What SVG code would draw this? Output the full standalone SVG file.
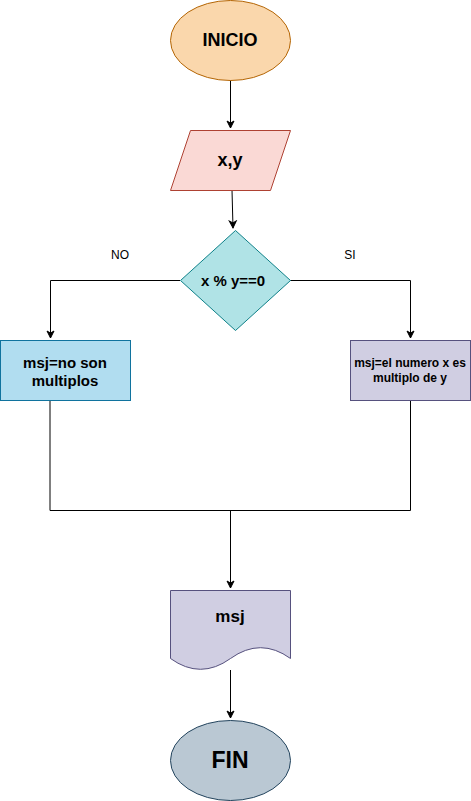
<svg xmlns="http://www.w3.org/2000/svg" width="471" height="801" viewBox="0 0 471 801">
<defs>
<style>
text{font-family:"Liberation Sans",Arial,sans-serif;fill:#000;text-anchor:middle}
.b{font-weight:bold}
.ln{fill:none;stroke:#000;stroke-width:1}
</style>
<marker id="ah" markerWidth="10" markerHeight="10" refX="8" refY="5" orient="auto" markerUnits="userSpaceOnUse">
<path d="M1,1.5 L8,5 L1,8.5 L3,5 Z" fill="#000" stroke="#000" stroke-width="1"/>
</marker>
</defs>
<rect width="471" height="801" fill="#fff"/>
<g id="connectors">
<path class="ln" d="M230.5,80 V128" marker-end="url(#ah)"/>
<path class="ln" d="M232,190 L233,228" marker-end="url(#ah)"/>
<path class="ln" d="M180,280.5 H50.5 V338" marker-end="url(#ah)"/>
<path class="ln" d="M290,280.5 H410.5 V338" marker-end="url(#ah)"/>
<path class="ln" d="M50,400 V510.5 H410.5 V400"/>
<path class="ln" d="M230.5,510 V588" marker-end="url(#ah)"/>
<path class="ln" d="M230.5,670 V718" marker-end="url(#ah)"/>
</g>
<g id="labels">
<text x="120" y="259" font-size="12">NO</text>
<text x="350" y="259" font-size="12">SI</text>
</g>
<g id="inicio">
<ellipse cx="230.5" cy="40.5" rx="60" ry="40" fill="#fad7ac" stroke="#b46504"/>
<text class="b" x="230" y="46" font-size="18">INICIO</text>
</g>
<g id="entrada">
<polygon points="190.5,130.5 290.5,130.5 270.5,190.5 170.5,190.5" fill="#fad9d5" stroke="#ae4132"/>
<text class="b" x="230" y="166" font-size="18">x,y</text>
</g>
<g id="decision">
<polygon points="235.5,230.5 290.5,280.5 235.5,330.5 180.5,280.5" fill="#b0e3e6" stroke="#0e8088"/>
<text class="b" x="233" y="286" font-size="15">x % y==0</text>
</g>
<g id="no-box">
<rect x="0.5" y="340.5" width="130" height="60" fill="#b1ddf0" stroke="#10739e"/>
<text class="b" x="65" y="368" font-size="15">msj=no son</text>
<text class="b" x="65" y="386" font-size="15">multiplos</text>
</g>
<g id="si-box">
<rect x="350.5" y="340.5" width="120" height="60" fill="#d0cee2" stroke="#56517e"/>
<text class="b" x="410" y="367" font-size="12">msj=el numero x es</text>
<text class="b" x="410" y="382" font-size="12">multiplo de y</text>
</g>
<g id="salida">
<path d="M170.5,590.5 H290.5 V658.5 Q260.5,636.9 230.5,658.5 Q200.5,680.1 170.5,658.5 Z" fill="#d0cee2" stroke="#56517e"/>
<text class="b" x="230" y="622" font-size="17">msj</text>
</g>
<g id="fin">
<ellipse cx="230.5" cy="760.5" rx="60" ry="40" fill="#bac8d3" stroke="#23445d"/>
<text class="b" x="230" y="768" font-size="23">FIN</text>
</g>
</svg>
